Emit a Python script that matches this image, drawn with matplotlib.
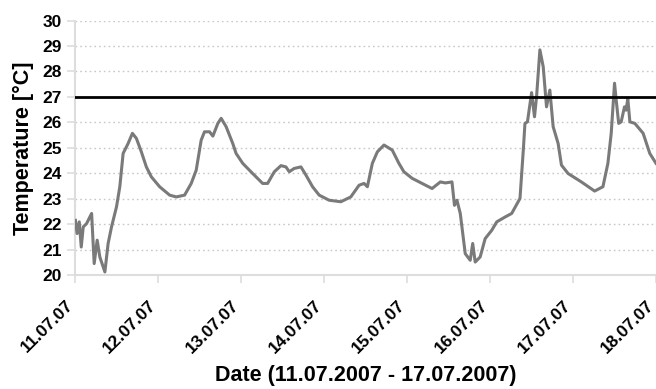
import numpy as np
import matplotlib
matplotlib.use("Agg")
import matplotlib.pyplot as plt
import matplotlib.transforms as mtransforms

plt.rcParams['font.family'] = ['Liberation Sans', 'DejaVu Sans']
plt.rcParams['font.weight'] = 'bold'
plt.rcParams['axes.labelweight'] = 'bold'

# time in days since 11.07.2007 00:00, temperature in degC
days = [0.0, 0.02, 0.046, 0.07, 0.094, 0.134, 0.195, 0.226, 0.262, 0.294,
        0.355, 0.394, 0.435, 0.495, 0.535, 0.575, 0.595, 0.635, 0.687, 0.735,
        0.795, 0.855, 0.915, 1.015, 1.136, 1.216, 1.316, 1.396, 1.456, 1.516,
        1.556, 1.617, 1.657, 1.717, 1.757, 1.817, 1.897, 1.937, 2.017, 2.137,
        2.257, 2.317, 2.398, 2.478, 2.538, 2.578, 2.638, 2.719, 2.779, 2.859,
        2.939, 3.059, 3.2, 3.32, 3.42, 3.48, 3.52, 3.58, 3.64, 3.72,
        3.82, 3.9, 3.96, 4.06, 4.18, 4.3, 4.4, 4.46, 4.54, 4.57,
        4.6, 4.64, 4.7, 4.76, 4.79, 4.82, 4.88, 4.94, 5.02, 5.08,
        5.18, 5.26, 5.36, 5.4, 5.42, 5.45, 5.5, 5.535, 5.56, 5.6,
        5.64, 5.68, 5.72, 5.76, 5.82, 5.86, 5.94, 6.1, 6.26, 6.36,
        6.42, 6.46, 6.5, 6.52, 6.55, 6.58, 6.62, 6.64, 6.66, 6.685,
        6.745, 6.845, 6.925, 7.0]
temp = [22.15, 21.63, 22.09, 21.1, 21.89, 22.02, 22.42, 20.45, 21.37, 20.71,
        20.12, 21.24, 21.89, 22.68, 23.47, 24.78, 24.91, 25.17, 25.57, 25.37,
        24.84, 24.25, 23.86, 23.47, 23.14, 23.07, 23.14, 23.6, 24.12, 25.3,
        25.63, 25.63, 25.46, 25.96, 26.16, 25.83, 25.17, 24.78, 24.39, 23.99,
        23.6, 23.6, 24.06, 24.3, 24.25, 24.06, 24.19, 24.25, 23.93, 23.47,
        23.14, 22.94, 22.88, 23.07, 23.53, 23.6, 23.47, 24.39, 24.84, 25.11,
        24.91, 24.39, 24.06, 23.8, 23.6, 23.4, 23.66, 23.62, 23.66, 22.74,
        22.94, 22.42, 20.84, 20.58, 21.24, 20.51, 20.71, 21.43, 21.76, 22.09,
        22.28, 22.42, 23.01, 24.91, 25.96, 26.02, 27.17, 26.22, 27.01, 28.85,
        28.19, 26.61, 27.27, 25.83, 25.17, 24.32, 23.99, 23.66, 23.3, 23.47,
        24.39, 25.57, 27.54, 26.88, 25.96, 26.02, 26.61, 26.48, 26.94, 26.02,
        25.96, 25.57, 24.78, 24.39]
limit = 27
tick_labels = ['11.07.07', '12.07.07', '13.07.07', '14.07.07',
               '15.07.07', '16.07.07', '17.07.07', '18.07.07']

fig = plt.figure(figsize=(6.56, 3.89), dpi=100)
ax = fig.add_axes([0.115, 0.293, 0.885, 0.654])

ax.plot(days, temp, color='#7a7a7a', lw=2.2, zorder=3)
ax.axhline(limit, color='black', lw=2, zorder=4)

ax.set_xlim(0, 7)
ax.set_ylim(20, 30)
ax.set_yticks(range(20, 31))
ax.set_xticks(range(len(tick_labels)))
ax.set_xticklabels(tick_labels, rotation=45, ha='right', rotation_mode='anchor', fontsize=12.5)
ax.tick_params(axis='y', labelsize=12.5, length=6, color='#dddddd', width=1.2, pad=4)
ax.tick_params(axis='x', length=6, color='#dddddd', width=1.2, pad=10)

# nudge the date labels a bit to the left of their ticks
shift = mtransforms.ScaledTranslation(-10 / 100, 0, fig.dpi_scale_trans)
for lbl in ax.get_xticklabels():
    lbl.set_transform(lbl.get_transform() + shift)

ax.yaxis.grid(True, linestyle=(0, (1.2, 2.2)), color='#c8c8c8', lw=1)
ax.set_axisbelow(True)
for s in ['top', 'right']:
    ax.spines[s].set_visible(False)
for s in ['left', 'bottom']:
    ax.spines[s].set_color('#dddddd')
    ax.spines[s].set_linewidth(1.5)

ax.set_ylabel('Temperature [°C]', fontsize=15.5)
ax.yaxis.set_label_coords(-0.072, 0.5)
ax.set_xlabel('Date (11.07.2007 - 17.07.2007)', fontsize=15.5)
ax.xaxis.set_label_coords(0.5, -0.352)

fig.savefig('out.png', dpi=100)
